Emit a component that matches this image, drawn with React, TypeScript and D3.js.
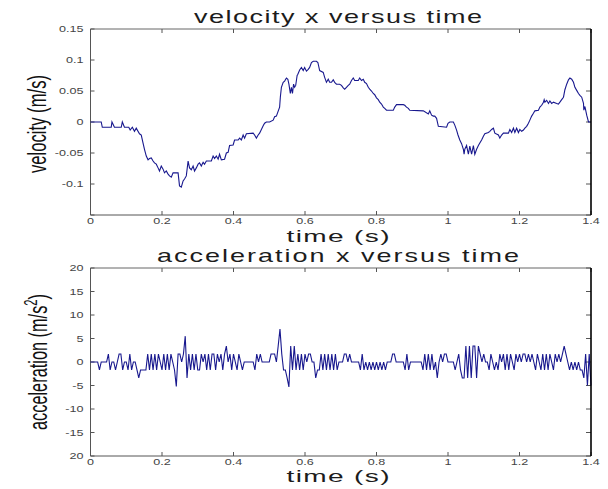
import React from "react";
import * as d3 from "d3";

// velocity samples (time in s, velocity in m/s)
const velTime = [
  0, 0.03, 0.033, 0.058, 0.06, 0.067, 0.086, 0.089, 0.095, 0.107, 0.111, 0.117, 0.123, 0.128, 0.137,
  0.142, 0.147, 0.151, 0.156, 0.161, 0.165, 0.17, 0.175, 0.179, 0.184, 0.189, 0.193, 0.198, 0.203,
  0.207, 0.212, 0.217, 0.221, 0.226, 0.231, 0.245, 0.249, 0.254, 0.259, 0.263, 0.268, 0.273, 0.277,
  0.282, 0.287, 0.291, 0.296, 0.301, 0.305, 0.31, 0.315, 0.319, 0.324, 0.338, 0.343, 0.347, 0.352,
  0.357, 0.361, 0.366, 0.375, 0.38, 0.385, 0.389, 0.399, 0.403, 0.413, 0.417, 0.422, 0.427, 0.431,
  0.436, 0.455, 0.459, 0.464, 0.469, 0.473, 0.478, 0.483, 0.487, 0.492, 0.501, 0.511, 0.515, 0.52,
  0.524, 0.529, 0.531, 0.534, 0.539, 0.543, 0.548, 0.552, 0.555, 0.559, 0.562, 0.565, 0.568, 0.571,
  0.574, 0.578, 0.58, 0.585, 0.59, 0.595, 0.599, 0.604, 0.609, 0.613, 0.618, 0.623, 0.632, 0.636,
  0.641, 0.651, 0.655, 0.66, 0.665, 0.669, 0.674, 0.679, 0.683, 0.688, 0.697, 0.702, 0.707, 0.711,
  0.716, 0.721, 0.725, 0.73, 0.735, 0.739, 0.749, 0.753, 0.758, 0.763, 0.767, 0.772, 0.777, 0.781,
  0.786, 0.791, 0.795, 0.8, 0.805, 0.809, 0.814, 0.819, 0.823, 0.828, 0.847, 0.851, 0.856, 0.875,
  0.879, 0.884, 0.889, 0.893, 0.931, 0.945, 0.949, 0.954, 0.959, 0.963, 0.968, 0.973, 0.996, 1.0,
  1.005, 1.015, 1.019, 1.024, 1.028, 1.033, 1.038, 1.043, 1.045, 1.047, 1.052, 1.057, 1.061, 1.066,
  1.071, 1.075, 1.08, 1.085, 1.089, 1.094, 1.099, 1.103, 1.113, 1.117, 1.122, 1.127, 1.131, 1.141,
  1.145, 1.15, 1.155, 1.169, 1.173, 1.178, 1.183, 1.187, 1.192, 1.197, 1.201, 1.206, 1.211, 1.215,
  1.22, 1.225, 1.229, 1.234, 1.239, 1.243, 1.253, 1.257, 1.262, 1.267, 1.269, 1.271, 1.276, 1.281,
  1.285, 1.29, 1.295, 1.304, 1.309, 1.313, 1.318, 1.323, 1.327, 1.332, 1.337, 1.341, 1.346, 1.351,
  1.355, 1.36, 1.365, 1.369, 1.374, 1.379, 1.38, 1.383, 1.388, 1.393, 1.4,
];
const velValue = [
  0, 0, -0.0085, -0.0085, 0, -0.0085, -0.0085, 0, -0.0085, -0.0085, -0.013, -0.0085, -0.015, -0.01, -0.019,
  -0.021, -0.034, -0.044, -0.055, -0.061, -0.059, -0.058, -0.063, -0.066, -0.068, -0.074, -0.079, -0.071, -0.076,
  -0.082, -0.079, -0.084, -0.087, -0.089, -0.082, -0.082, -0.103, -0.105, -0.095, -0.092, -0.087, -0.063, -0.074,
  -0.077, -0.071, -0.079, -0.074, -0.068, -0.066, -0.071, -0.065, -0.068, -0.063, -0.063, -0.055, -0.059, -0.055,
  -0.06, -0.052, -0.061, -0.06, -0.05, -0.049, -0.038, -0.037, -0.029, -0.029, -0.026, -0.029, -0.021, -0.026,
  -0.019, -0.018, -0.021, -0.026, -0.021, -0.018, -0.012, -0.006, -0.002, 0, 0, 0.003, 0.0085, 0.0095,
  0.016, 0.024, 0.04, 0.056, 0.064, 0.066, 0.071, 0.069, 0.061, 0.046, 0.056, 0.046, 0.061, 0.056,
  0.059, 0.075, 0.077, 0.084, 0.088, 0.083, 0.088, 0.082, 0.085, 0.088, 0.096, 0.098, 0.098, 0.096,
  0.083, 0.08, 0.072, 0.064, 0.069, 0.064, 0.064, 0.068, 0.064, 0.061, 0.061, 0.059, 0.055, 0.053,
  0.056, 0.059, 0.061, 0.067, 0.071, 0.067, 0.067, 0.071, 0.067, 0.069, 0.064, 0.062, 0.056, 0.053,
  0.05, 0.046, 0.044, 0.039, 0.036, 0.032, 0.029, 0.024, 0.022, 0.019, 0.019, 0.024, 0.028, 0.028,
  0.027, 0.024, 0.022, 0.019, 0.018, 0.013, 0.018, 0.011, 0.0095, 0.0095, 0.006, -0.007, -0.0085, -0.002,
  0, 0, -0.005, -0.013, -0.021, -0.029, -0.035, -0.044, -0.052, -0.044, -0.038, -0.052, -0.039, -0.052,
  -0.038, -0.052, -0.044, -0.038, -0.034, -0.029, -0.023, -0.019, -0.017, -0.015, -0.012, -0.01, -0.018, -0.021,
  -0.026, -0.021, -0.018, -0.018, -0.012, -0.017, -0.01, -0.017, -0.01, -0.017, -0.012, -0.015, -0.013, -0.01,
  -0.007, -0.002, 0.003, 0.0095, 0.014, 0.018, 0.019, 0.024, 0.027, 0.032, 0.036, 0.032, 0.035, 0.03,
  0.034, 0.03, 0.032, 0.03, 0.029, 0.032, 0.036, 0.04, 0.052, 0.061, 0.068, 0.071, 0.069, 0.064,
  0.056, 0.051, 0.046, 0.043, 0.04, 0.03, 0.019, 0.025, 0.011, 0, 0,
];

// acceleration samples (m/s^2), one every 0.005 s from t = 0
const accelStep = 0.005;
const accelValue = [
  0, 0, 0, 0, 0, -1.7, 0, 0, 0, 0,
  1.7, -1.7, 0, 0, -1.7, 0, 1.7, 1.7, -1.7, 0,
  0, -1.7, 1.7, -1.7, 0, 0, -1.7, -3.4, -1.7, -1.7,
  -1.7, -1.7, 1.7, -1.7, 1.7, -1.7, 1.7, -1.7, 1.7, 0,
  -1.7, 1.7, -1.7, 1.7, -1.7, 1.7, 0, -1.7, -5.2, 1.7,
  1.7, 0, 1.7, 5.5, -3.4, 1.7, -1.7, 1.7, -1.7, 1.7,
  -1.7, -1.7, 1.7, 0, 1.7, -1.7, 1.7, -1.7, 1.7, 1.7,
  -1.7, 1.7, 0, 1.7, -1.7, 1.7, 3.4, 0, 1.7, -1.7,
  1.7, 0, -1.7, 1.7, 0, -1.7, 0, 0, 0, 0,
  0, 0, -1.7, 1.7, 0, 1.7, 0, 0, 0, 0,
  0, 1.7, 1.7, 1.7, 0, 3.4, 7, 1.7, -1.7, -1.7,
  -3.4, -5.3, 3.4, -1.7, 3.4, -1.7, 1.7, -1.7, 1.7, -1.7,
  1.7, 0, 1.7, 1.7, 0, 0, -3.4, -1.7, -1.7, 1.7,
  -1.7, 1.7, -1.7, 1.7, -1.7, 1.7, -1.7, 1.7, -1.7, 0,
  0, 0, 1.7, 1.7, 0, 1.7, 0, 0, 0, 0,
  0, -1.7, 1.7, -1.7, 0, -1.7, 0, -1.7, 0, -1.7,
  0, -1.7, 0, -1.7, 0, -1.7, 0, 0, 0, 1.7,
  1.7, 0, 0, 0, 0, 0, -1.7, 1.7, -1.7, 0,
  0, 0, 0, 0, 0, 0, -1.7, 1.7, -1.7, 1.7,
  -1.7, 1.7, -1.7, 0, -3.4, 0, 1.7, 0, 1.7, 1.7,
  0, 0, 0, 0, -1.7, 0, 1.7, -1.7, -3.4, -3.4,
  3.4, -3.4, 3.4, -3.4, 3.4, 3.4, -3.4, 3.4, 1.7, 0,
  1.7, 0, 0, -1.7, 1.7, 0, -1.7, 0, -1.7, 1.7,
  0, 1.7, -1.7, 1.7, -1.7, 1.7, 0, -1.7, 1.7, 0,
  1.7, 0, 1.7, 1.7, 0, 1.7, 0, 1.7, 0, -1.7,
  1.7, 0, -1.7, 1.7, -1.7, 1.7, -1.7, 1.7, 0, -1.7,
  1.7, 0, 1.7, 0, 1.7, 3.4, 1.7, 0, -1.7, 0,
  -1.7, 0, -1.7, 0, -1.7, -1.7, -3.4, 1.7, -5, 1.7,
  -5,
];

const timeTicks = [0, 0.2, 0.4, 0.6, 0.8, 1, 1.2, 1.4];
const timeTickLabels = ["0", "0.2", "0.4", "0.6", "0.8", "1", "1.2", "1.4"];
const velTicks = [-0.15, -0.1, -0.05, 0, 0.05, 0.1, 0.15];
const velTickLabels = ["", "-0.1", "-0.05", "0", "0.05", "0.1", "0.15"];
const accelTicks = [-20, -15, -10, -5, 0, 5, 10, 15, 20];
const accelTickLabels = ["20", "-15", "-10", "-5", "0", "5", "10", "15", "20"];

const FONT = "'Liberation Sans', Arial, Helvetica, sans-serif";
const LINE = "#18188e";
const X0 = 90.5;
const X1 = 591;

const x = d3.scaleLinear().domain([0, 1.4]).range([X0, X1]);

type PanelProps = {
  top: number;
  bottom: number;
  domain: [number, number];
  ticks: number[];
  tickLabels: string[];
  points: [number, number][];
};

const Panel = ({ top, bottom, domain, ticks, tickLabels, points }: PanelProps) => {
  const y = d3.scaleLinear().domain(domain).range([bottom, top]);
  const line = d3
    .line<[number, number]>()
    .x((d) => x(d[0]))
    .y((d) => y(d[1]));
  return (
    <g>
      {/* frame */}
      <line x1={X0} y1={top} x2={X1} y2={top} stroke='#666' strokeWidth={1} />
      <line x1={X0} y1={bottom} x2={X1} y2={bottom} stroke='#555' strokeWidth={1} />
      <line x1={X0} y1={top} x2={X0} y2={bottom} stroke='#555' strokeWidth={1} />
      {timeTicks.map((t, i) => (
        <g key={"xt" + i}>
          <line x1={x(t)} x2={x(t)} y1={bottom} y2={bottom - 4} stroke='#555' />
          <line x1={x(t)} x2={x(t)} y1={top} y2={top + 4} stroke='#555' />
          <text
            transform={`translate(${x(t)},${bottom + 9}) scale(1.4,1)`}
            textAnchor='middle'
            fontSize={9}
            fill='#444'
            fontFamily={FONT}
          >
            {timeTickLabels[i]}
          </text>
        </g>
      ))}
      {ticks.map((v, i) => (
        <g key={"yt" + i}>
          <line x1={X0} x2={X0 + 4} y1={y(v)} y2={y(v)} stroke='#555' />
          <line x1={X1} x2={X1 - 5} y1={y(v)} y2={y(v)} stroke='#555' />
          <text
            transform={`translate(${X0 - 7},${y(v) + 3.3}) scale(1.4,1)`}
            textAnchor='end'
            fontSize={9}
            fill='#444'
            fontFamily={FONT}
          >
            {tickLabels[i]}
          </text>
        </g>
      ))}
      <path d={line(points) || ""} fill='none' stroke={LINE} strokeWidth={1.1} />
      <line x1={X1} y1={top} x2={X1} y2={bottom} stroke='#000' strokeWidth={1.6} />
    </g>
  );
};

// stretched label: glyphs widened by sx, remaining width made up with letter spacing
const Label = ({ cx, y, width, size, sx, text }: { cx: number; y: number; width: number; size: number; sx: number; text: string }) => (
  <text
    transform={`translate(${cx},${y}) scale(${sx},1)`}
    textAnchor='middle'
    fontSize={size}
    fontFamily={FONT}
    fill='#1c1c1c'
    textLength={width / sx}
    lengthAdjust='spacing'
  >
    {text}
  </text>
);

const App = () => {
  const velPoints: [number, number][] = velTime.map((t, i) => [t, velValue[i]]);
  const accelPoints: [number, number][] = accelValue.map((a, i) => [i * accelStep, a]);
  return (
    <svg
      width={608}
      height={489}
      style={{ position: "absolute", left: 0, top: 0, background: "#fff" }}
    >
      <rect width={608} height={489} fill='#fff' />
      <Panel
        top={29}
        bottom={215}
        domain={[-0.15, 0.15]}
        ticks={velTicks}
        tickLabels={velTickLabels}
        points={velPoints}
      />
      <Panel
        top={268}
        bottom={456}
        domain={[-20, 20]}
        ticks={accelTicks}
        tickLabels={accelTickLabels}
        points={accelPoints}
      />

      <Label cx={338} y={23} width={288} size={18} sx={1.5} text='velocity x versus time' />
      <Label cx={338} y={242} width={103} size={17} sx={1.65} text='time (s)' />
      <Label cx={338} y={262} width={362} size={18} sx={1.5} text='acceleration x versus time' />
      <Label cx={338} y={482} width={103} size={17} sx={1.65} text='time (s)' />

      <text
        transform='translate(39,124) scale(1.6,1) rotate(-90)'
        textAnchor='middle'
        dy='0.27em'
        fontSize={16}
        fontFamily={FONT}
        fill='#111'
        textLength={98}
        lengthAdjust='spacingAndGlyphs'
      >
        velocity (m/s)
      </text>
      <text
        transform='translate(40,362) scale(1.6,1) rotate(-90)'
        textAnchor='middle'
        dy='0.27em'
        fontSize={16}
        fontFamily={FONT}
        fill='#111'
        textLength={136}
        lengthAdjust='spacingAndGlyphs'
      >
        acceleration (m/s<tspan dy={-6} fontSize={11}>2</tspan>
        <tspan dy={6}>)</tspan>
      </text>
    </svg>
  );
};

export default App;
